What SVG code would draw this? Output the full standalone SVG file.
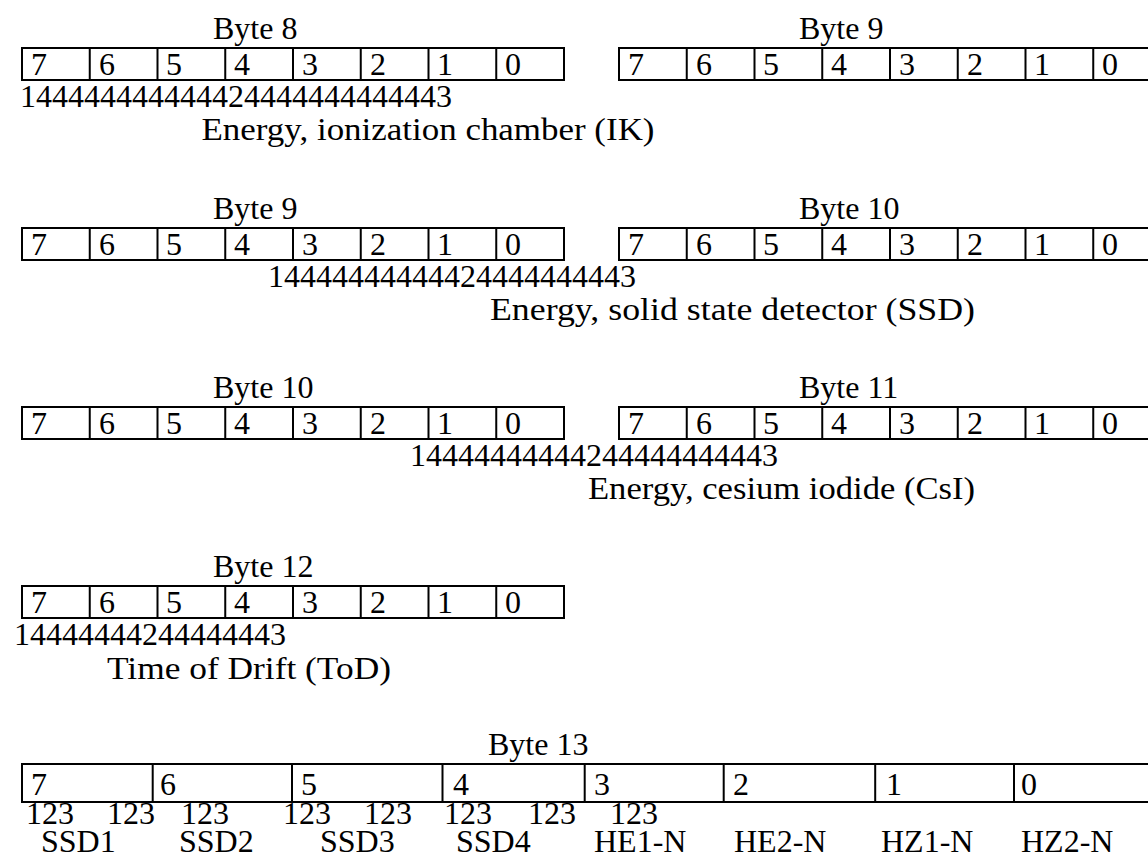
<svg xmlns="http://www.w3.org/2000/svg" width="1148" height="867" viewBox="0 0 1148 867">
<style>
.b{fill:none;stroke:#000;stroke-width:2}
.t{font-family:"Liberation Serif","Times New Roman",serif;font-size:32px;fill:#000}
</style>
<rect width="1148" height="867" fill="#fff"/>
<g id="row1-byte8">
<text class="t" x="213" y="39">Byte 8</text>
<rect class="b" x="22" y="48" width="542" height="32"/>
<path class="b" d="M89.75 48V80M157.5 48V80M225.25 48V80M293 48V80M360.75 48V80M428.5 48V80M496.25 48V80"/>
<text class="t" y="75"><tspan x="31">7</tspan><tspan x="99">6</tspan><tspan x="166">5</tspan><tspan x="234">4</tspan><tspan x="302">3</tspan><tspan x="370">2</tspan><tspan x="437">1</tspan><tspan x="505">0</tspan></text>
</g>
<g id="row1-byte9">
<text class="t" x="799" y="39">Byte 9</text>
<rect class="b" x="619" y="48" width="542" height="32"/>
<path class="b" d="M686.75 48V80M754.5 48V80M822.25 48V80M890 48V80M957.75 48V80M1025.5 48V80M1093.25 48V80"/>
<text class="t" y="75"><tspan x="628">7</tspan><tspan x="696">6</tspan><tspan x="763">5</tspan><tspan x="831">4</tspan><tspan x="899">3</tspan><tspan x="967">2</tspan><tspan x="1034">1</tspan><tspan x="1102">0</tspan></text>
</g>
<g id="field-ik">
<text class="t" x="20" y="107">144444444444424444444444443</text>
<text class="t" x="201.5" y="140" textLength="453" lengthAdjust="spacingAndGlyphs">Energy, ionization chamber (IK)</text>
</g>

<g id="row2-byte9">
<text class="t" x="213" y="219">Byte 9</text>
<rect class="b" x="22" y="228" width="542" height="32"/>
<path class="b" d="M89.75 228V260M157.5 228V260M225.25 228V260M293 228V260M360.75 228V260M428.5 228V260M496.25 228V260"/>
<text class="t" y="255"><tspan x="31">7</tspan><tspan x="99">6</tspan><tspan x="166">5</tspan><tspan x="234">4</tspan><tspan x="302">3</tspan><tspan x="370">2</tspan><tspan x="437">1</tspan><tspan x="505">0</tspan></text>
</g>
<g id="row2-byte10">
<text class="t" x="799" y="219">Byte 10</text>
<rect class="b" x="619" y="228" width="542" height="32"/>
<path class="b" d="M686.75 228V260M754.5 228V260M822.25 228V260M890 228V260M957.75 228V260M1025.5 228V260M1093.25 228V260"/>
<text class="t" y="255"><tspan x="628">7</tspan><tspan x="696">6</tspan><tspan x="763">5</tspan><tspan x="831">4</tspan><tspan x="899">3</tspan><tspan x="967">2</tspan><tspan x="1034">1</tspan><tspan x="1102">0</tspan></text>
</g>
<g id="field-ssd">
<text class="t" x="268" y="287">14444444444424444444443</text>
<text class="t" x="490" y="320" textLength="485" lengthAdjust="spacingAndGlyphs">Energy, solid state detector (SSD)</text>
</g>

<g id="row3-byte10">
<text class="t" x="213" y="398">Byte 10</text>
<rect class="b" x="22" y="407" width="542" height="32"/>
<path class="b" d="M89.75 407V439M157.5 407V439M225.25 407V439M293 407V439M360.75 407V439M428.5 407V439M496.25 407V439"/>
<text class="t" y="434"><tspan x="31">7</tspan><tspan x="99">6</tspan><tspan x="166">5</tspan><tspan x="234">4</tspan><tspan x="302">3</tspan><tspan x="370">2</tspan><tspan x="437">1</tspan><tspan x="505">0</tspan></text>
</g>
<g id="row3-byte11">
<text class="t" x="799" y="398">Byte 11</text>
<rect class="b" x="619" y="407" width="542" height="32"/>
<path class="b" d="M686.75 407V439M754.5 407V439M822.25 407V439M890 407V439M957.75 407V439M1025.5 407V439M1093.25 407V439"/>
<text class="t" y="434"><tspan x="628">7</tspan><tspan x="696">6</tspan><tspan x="763">5</tspan><tspan x="831">4</tspan><tspan x="899">3</tspan><tspan x="967">2</tspan><tspan x="1034">1</tspan><tspan x="1102">0</tspan></text>
</g>
<g id="field-csi">
<text class="t" x="410" y="466">14444444444244444444443</text>
<text class="t" x="588" y="499" textLength="387" lengthAdjust="spacingAndGlyphs">Energy, cesium iodide (CsI)</text>
</g>

<g id="row4-byte12">
<text class="t" x="213" y="577">Byte 12</text>
<rect class="b" x="22" y="586" width="542" height="32"/>
<path class="b" d="M89.75 586V618M157.5 586V618M225.25 586V618M293 586V618M360.75 586V618M428.5 586V618M496.25 586V618"/>
<text class="t" y="613"><tspan x="31">7</tspan><tspan x="99">6</tspan><tspan x="166">5</tspan><tspan x="234">4</tspan><tspan x="302">3</tspan><tspan x="370">2</tspan><tspan x="437">1</tspan><tspan x="505">0</tspan></text>
</g>
<g id="field-tod">
<text class="t" x="14" y="645">14444444244444443</text>
<text class="t" x="107" y="679" textLength="284" lengthAdjust="spacingAndGlyphs">Time of Drift (ToD)</text>
</g>

<g id="row5-byte13">
<text class="t" x="488" y="755">Byte 13</text>
<rect class="b" x="22" y="764" width="1140" height="38"/>
<path class="b" d="M152.7 764V802M292 764V802M442.5 764V802M584.7 764V802M723.7 764V802M875.2 764V802M1014 764V802"/>
<text class="t" y="795"><tspan x="31">7</tspan><tspan x="160">6</tspan><tspan x="301">5</tspan><tspan x="453">4</tspan><tspan x="594">3</tspan><tspan x="733">2</tspan><tspan x="886">1</tspan><tspan x="1021">0</tspan></text>
<text class="t" y="824"><tspan x="26">123</tspan><tspan x="107">123</tspan><tspan x="181">123</tspan><tspan x="283">123</tspan><tspan x="364">123</tspan><tspan x="444">123</tspan><tspan x="528">123</tspan><tspan x="610">123</tspan></text>
<text class="t" y="852"><tspan x="41">SSD1</tspan><tspan x="179">SSD2</tspan><tspan x="320">SSD3</tspan><tspan x="456">SSD4</tspan><tspan x="594">HE1-N</tspan><tspan x="734">HE2-N</tspan><tspan x="881">HZ1-N</tspan><tspan x="1021">HZ2-N</tspan></text>
</g>
<g id="connectors"/>
</svg>
